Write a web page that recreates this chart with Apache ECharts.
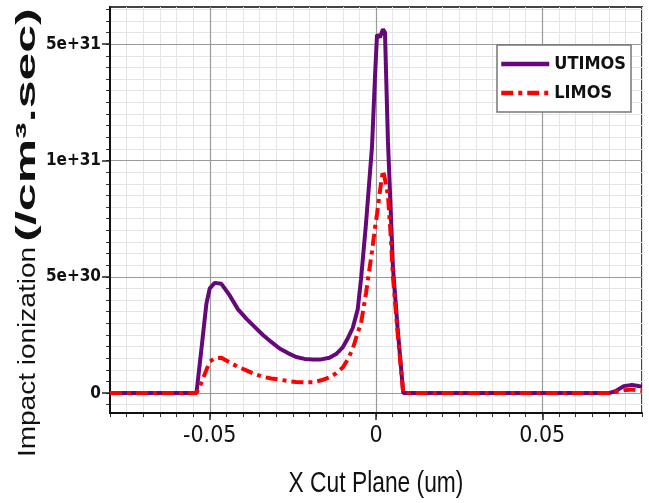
<!DOCTYPE html>
<html><head><meta charset="utf-8">
<script src="https://cdn.jsdelivr.net/npm/echarts@6/dist/echarts.min.js"></script>
<style>html,body{margin:0;padding:0;background:#fff}#c{width:649px;height:503px}</style>
</head><body><div id="c"></div>
<script>
// ---- data (x in um, y in /cm^3.sec) ----
const xCut = [-0.08, -0.06, -0.054, -0.0525, -0.051, -0.050, -0.0485, -0.0465, -0.044, -0.0415,
  -0.039, -0.0365, -0.034, -0.0315, -0.029, -0.0265, -0.024, -0.0215, -0.019, -0.0165,
  -0.014, -0.012, -0.010, -0.0085, -0.007, -0.0055, -0.0045, -0.003, -0.0012, -0.0003,
  0.0003, 0.0012, 0.0021, 0.0027, 0.0036, 0.0045, 0.0051, 0.0065, 0.0082, 0.02,
  0.04, 0.06, 0.070, 0.072, 0.0745, 0.077, 0.0785, 0.08];
const utimos = [0, 0, 0, 1.9e30, 3.85e30, 4.5e30, 4.74e30, 4.7e30, 4.2e30, 3.6e30,
  3.2e30, 2.85e30, 2.5e30, 2.2e30, 1.92e30, 1.72e30, 1.55e30, 1.47e30, 1.45e30, 1.45e30,
  1.52e30, 1.68e30, 1.97e30, 2.35e30, 2.8e30, 3.6e30, 4.9e30, 7.3e30, 10.6e30, 13.6e30,
  15.4e30, 15.3e30, 15.64e30, 15.5e30, 10.8e30, 7.6e30, 5.4e30, 2.8e30, 0, 0,
  0, 0, 0, 0.08e30, 0.3e30, 0.35e30, 0.32e30, 0.28e30];
const limos = [0, 0, 0, 0.45e30, 1.0e30, 1.35e30, 1.5e30, 1.52e30, 1.32e30, 1.13e30,
  0.98e30, 0.82e30, 0.7e30, 0.63e30, 0.58e30, 0.52e30, 0.48e30, 0.46e30, 0.47e30, 0.55e30,
  0.68e30, 0.85e30, 1.1e30, 1.45e30, 1.9e30, 2.6e30, 3.0e30, 4.3e30, 6.1e30, 7.1e30,
  7.7e30, 8.7e30, 9.57e30, 9.2e30, 8.5e30, 6.6e30, 5.0e30, 2.6e30, 0, 0,
  0, 0, 0, 0.05e30, 0.12e30, 0.15e30, 0.12e30, 0.1e30];
const seriesNames = ['UTIMOS', 'LIMOS'];
const xTickValues = [-0.05, 0, 0.05];
const xTickLabels = ['-0.05', '0', '0.05'];
const yTickValues = [0, 5e30, 1e31, 1.5e31];
const yTickLabels = ['0', '5e+30', '1e+31', '5e+31'];
const xTitle = 'X Cut Plane (um)';
const yTitleMain = 'Impact ionization';
const yTitleUnit = '(/cm\u00B3.sec)';

// ---- layout / style ----
const X_MIN = -0.08, X_MAX = 0.08, Y_MIN = -0.855e30, Y_MAX = 16.6e30;
const yMinor = [];
for (let k = -1; k <= 33; k++) yMinor.push(k * 5e29);
const NARROW = "'Liberation Sans Narrow','Arial Narrow','DejaVu Sans Condensed',sans-serif";
const REG = "'Liberation Sans',Arial,sans-serif";

function lookup(vals, labels, v) {
  for (let i = 0; i < vals.length; i++) {
    if (Math.abs(vals[i] - v) <= Math.abs(vals[i]) * 1e-6 + 1e-12) return labels[i];
  }
  return '';
}

const chart = echarts.init(document.getElementById('c'), null, {renderer: 'canvas'});
chart.setOption({
  animation: false,
  backgroundColor: '#fff',
  grid: {left: 110, right: 7, top: 7, bottom: 90, show: true, borderColor: '#444', borderWidth: 2, backgroundColor: 'transparent'},
  legend: {
    orient: 'vertical', left: 497, top: 45, data: seriesNames,
    itemWidth: 48, itemHeight: 14, itemGap: 11, padding: [10, 5, 10, 2],
    backgroundColor: '#fff', borderColor: '#777', borderWidth: 1.5,
    itemStyle: {color: 'rgba(0,0,0,0)', borderColor: 'rgba(0,0,0,0)', borderWidth: 0},
    lineStyle: {width: 4.5},
    textStyle: {fontFamily: NARROW, fontWeight: 'bold', fontSize: 18, color: '#111'}
  },
  xAxis: [{
    type: 'value', position: 'bottom', min: X_MIN, max: X_MAX, z: 1,
    axisLine: {show: true, onZero: false, lineStyle: {color: '#111', width: 2}},
    axisTick: {show: true, customValues: xTickValues, length: 7, lineStyle: {color: '#222', width: 1.5}},
    axisLabel: {customValues: xTickValues, margin: 12, fontFamily: NARROW, fontSize: 23, color: '#111',
      formatter: v => lookup(xTickValues, xTickLabels, v)},
    splitLine: {show: true, lineStyle: {color: '#9a9a9a', width: 1.2}}
  }, {
    type: 'value', position: 'bottom', min: X_MIN, max: X_MAX, interval: 0.005, z: 0,
    axisLine: {show: false, onZero: false},
    axisTick: {show: true, length: 4, lineStyle: {color: '#333', width: 1}},
    axisLabel: {show: false},
    splitLine: {show: true, lineStyle: {color: '#e4e4e4', width: 1}}
  }],
  yAxis: [{
    type: 'value', position: 'left', min: Y_MIN, max: Y_MAX, z: 1,
    axisLine: {show: true, onZero: false, lineStyle: {color: '#111', width: 2}},
    axisTick: {show: true, customValues: yTickValues, length: 8, lineStyle: {color: '#222', width: 1.5}},
    axisLabel: {customValues: yTickValues, margin: 9, fontFamily: NARROW, fontWeight: 'bold', fontSize: 17, color: '#111',
      formatter: v => lookup(yTickValues, yTickLabels, v)},
    splitLine: {show: true, lineStyle: {color: '#9a9a9a', width: 1.2}}
  }, {
    type: 'value', position: 'left', min: Y_MIN, max: Y_MAX, z: 0,
    axisLine: {show: false, onZero: false},
    axisTick: {show: true, customValues: yMinor, length: 4, lineStyle: {color: '#333', width: 1}},
    axisLabel: {show: false},
    splitLine: {show: true, lineStyle: {color: '#e4e4e4', width: 1}}
  }],
  graphic: [{
    type: 'text', x: 28, y: 352, rotation: Math.PI / 2, scaleY: 0.85, z: 10,
    style: {text: yTitleMain, font: "28px " + REG, fill: '#111', align: 'center', verticalAlign: 'middle'}
  }, {
    type: 'text', x: 27, y: 125, rotation: Math.PI / 2, scaleY: 0.56, z: 10,
    style: {text: yTitleUnit, font: "bold 50px " + REG, fill: '#111', align: 'center', verticalAlign: 'middle'}
  }, {
    type: 'text', x: 376, y: 484, scaleX: 0.76, z: 10,
    style: {text: xTitle, font: "30px " + REG, fill: '#111', align: 'center', verticalAlign: 'middle'}
  }],
  series: [{
    name: seriesNames[0], type: 'line', xAxisIndex: 0, yAxisIndex: 0,
    symbol: 'none', smooth: false,
    lineStyle: {color: '#66087a', width: 4},
    itemStyle: {color: '#66087a'},
    data: xCut.map((x, i) => [x, utimos[i]])
  }, {
    name: seriesNames[1], type: 'line', xAxisIndex: 0, yAxisIndex: 0,
    symbol: 'none', smooth: false,
    lineStyle: {color: '#ff0000', width: 4, type: [12, 5, 4, 5]},
    itemStyle: {color: '#ff0000'},
    data: xCut.map((x, i) => [x, limos[i]])
  }]
});
</script></body></html>
